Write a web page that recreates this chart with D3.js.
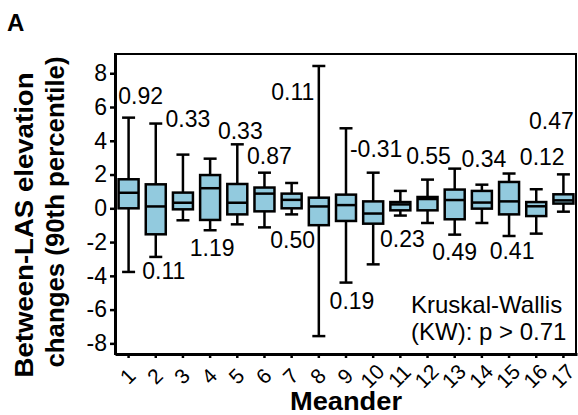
<!DOCTYPE html>
<html>
<head>
<meta charset="utf-8">
<script src="https://cdn.jsdelivr.net/npm/d3@7"></script>
<style>
  html, body { margin: 0; padding: 0; background: #fff; }
  svg { display: block; font-family: "Liberation Sans", Arial, Helvetica, sans-serif; }
</style>
</head>
<body>
<svg id="chart" width="578" height="415"></svg>
<script>
// ---- data ----
const categories = ["1","2","3","4","5","6","7","8","9","10","11","12","13","14","15","16","17"];
const whiskerLow  = [-3.77, -2.88, -0.71, -1.30, -0.95, -1.13, -0.36, -7.57, -4.40, -3.32, -0.43, -0.87, -1.56, -0.87, -1.64, -1.50, -0.20];
const quartile1   = [ 0.00, -1.54, -0.06, -0.69, -0.36, -0.18,  0.00, -1.00, -0.75, -0.91, -0.12, -0.12, -0.65, -0.02, -0.36, -0.46,  0.28];
const medians     = [ 0.92,  0.11,  0.33,  1.19,  0.33,  0.87,  0.50,  0.11,  0.19, -0.31,  0.23,  0.55,  0.49,  0.34,  0.41,  0.12,  0.47];
const quartile3   = [ 1.72,  1.42,  0.93,  1.97,  1.44,  1.23,  0.87,  0.63,  0.81,  0.41,  0.37,  0.67,  1.11,  1.03,  1.56,  0.37,  0.83];
const whiskerHigh = [ 5.37,  5.02,  3.18,  2.94,  3.79,  2.11,  1.50,  8.43,  4.74,  2.11,  1.03,  1.70,  2.35,  1.40,  2.06,  1.13,  2.01];
const yTicks = [-8, -6, -4, -2, 0, 2, 4, 6, 8];
const statText = ["Kruskal-Wallis", "(KW): p > 0.71"];

// ---- layout (label placement relative to whisker ends) ----
const labelSide = ["hi","lo","hi","lo","hi","hi","lo","hi","lo","hi","lo","hi","lo","hi","lo","hi","hi"];
const labelDx = [12, 8, 5, 2, 3, 5, 1, -26, 6, 3, 2, 1, 0, 2, 3, 6, -12];
const labelDy = [-14, 22, -28, 26, -5, -9, 34, 34, 26, -16, 31, -16, 25, -18, 23, -24, -45];

const boxes = categories.map((c, i) => ({
  cat: c, lo: whiskerLow[i], q1: quartile1[i], med: medians[i], q3: quartile3[i], hi: whiskerHigh[i],
  side: labelSide[i], dx: labelDx[i], dy: labelDy[i]
}));

const plot = {left: 115, right: 576, top: 54, bottom: 354};
const fill = "#92CADE";
const hyphen = s => s.replace(/\u2212/g, "-");

const svg = d3.select("#chart");

const x = d3.scaleBand().domain(categories).range([plot.left, plot.right + 1]).padding(0);
const y = d3.scaleLinear().domain([-8.63, 9.14]).range([plot.bottom, plot.top]);

// frame (top/right thinner)
svg.append("rect")
  .attr("x", plot.left).attr("y", plot.top)
  .attr("width", plot.right - plot.left).attr("height", plot.bottom - plot.top)
  .attr("fill", "none").attr("stroke", "#000").attr("stroke-width", 2);

// boxes
const bw = 20, capW = 13;
const g = svg.append("g");
const bx = d => x(d.cat) + x.bandwidth() / 2;

const box = g.selectAll("g.box").data(boxes).join("g").attr("class", "box");
box.append("line")
  .attr("x1", bx).attr("x2", bx)
  .attr("y1", d => y(d.hi)).attr("y2", d => y(d.lo))
  .attr("stroke", "#000").attr("stroke-width", 2.5);
box.append("line")
  .attr("x1", d => bx(d) - capW / 2).attr("x2", d => bx(d) + capW / 2)
  .attr("y1", d => y(d.hi)).attr("y2", d => y(d.hi))
  .attr("stroke", "#000").attr("stroke-width", 2.5);
box.append("line")
  .attr("x1", d => bx(d) - capW / 2).attr("x2", d => bx(d) + capW / 2)
  .attr("y1", d => y(d.lo)).attr("y2", d => y(d.lo))
  .attr("stroke", "#000").attr("stroke-width", 2.5);
box.append("rect")
  .attr("x", d => bx(d) - bw / 2).attr("width", bw)
  .attr("y", d => y(d.q3)).attr("height", d => y(d.q1) - y(d.q3))
  .attr("fill", fill).attr("stroke", "#000").attr("stroke-width", 2.5);
box.append("line")
  .attr("x1", d => bx(d) - bw / 2).attr("x2", d => bx(d) + bw / 2)
  .attr("y1", d => y(d.med)).attr("y2", d => y(d.med))
  .attr("stroke", "#000").attr("stroke-width", 2.5);

// median labels
const fmt = d3.format(".2f");
g.selectAll("text.lab").data(boxes).join("text").attr("class", "lab")
  .attr("x", d => bx(d) + d.dx)
  .attr("y", d => y(d.side === "hi" ? d.hi : d.lo) + d.dy)
  .attr("text-anchor", "middle")
  .attr("font-size", 23)
  .attr("fill", "#000")
  .text(d => hyphen(fmt(d.med)));

// y axis
const yAxis = svg.append("g").attr("transform", `translate(${plot.left},0)`)
  .call(d3.axisLeft(y).tickValues(yTicks).tickSize(5).tickSizeOuter(0).tickPadding(3).tickFormat(d => String(d)));
yAxis.select(".domain").attr("stroke-width", 3);
yAxis.selectAll(".tick line").attr("stroke-width", 2.5);
yAxis.selectAll(".tick text").attr("font-size", 23).attr("font-family", "Liberation Sans, Arial, sans-serif").attr("fill", "#000");

// x axis
const xAxis = svg.append("g").attr("transform", `translate(0,${plot.bottom})`)
  .call(d3.axisBottom(x).tickSize(4).tickSizeOuter(0));
xAxis.select(".domain").attr("stroke-width", 3);
xAxis.selectAll(".tick line").attr("stroke-width", 2.5);
xAxis.selectAll(".tick text")
  .attr("font-size", 21).attr("font-family", "Liberation Sans, Arial, sans-serif").attr("fill", "#000")
  .attr("text-anchor", "middle").attr("dominant-baseline", "central")
  .attr("y", 0).attr("dy", 0)
  .attr("transform", "translate(-1,22) rotate(-45)");

// axis titles
svg.append("text")
  .attr("x", 346).attr("y", 410)
  .attr("text-anchor", "middle").attr("font-weight", "bold").attr("font-size", 25)
  .attr("textLength", 112).attr("lengthAdjust", "spacingAndGlyphs")
  .text("Meander");

svg.append("text")
  .attr("transform", "translate(33,225) rotate(-90)")
  .attr("text-anchor", "middle").attr("font-weight", "bold").attr("font-size", 25)
  .attr("textLength", 305).attr("lengthAdjust", "spacingAndGlyphs")
  .text("Between-LAS elevation");
svg.append("text")
  .attr("transform", "translate(64,212) rotate(-90)")
  .attr("text-anchor", "middle").attr("font-weight", "bold").attr("font-size", 25)
  .attr("textLength", 311).attr("lengthAdjust", "spacingAndGlyphs")
  .text("changes (90th percentile)");

// panel letter
svg.append("text").attr("x", 7).attr("y", 31)
  .attr("font-weight", "bold").attr("font-size", 24).text("A");

// stats annotation
svg.selectAll("text.stat").data(statText).join("text").attr("class", "stat")
  .attr("x", 411).attr("y", (d, i) => 313 + i * 27)
  .attr("font-size", 24).text(d => d);
</script>
</body>
</html>
